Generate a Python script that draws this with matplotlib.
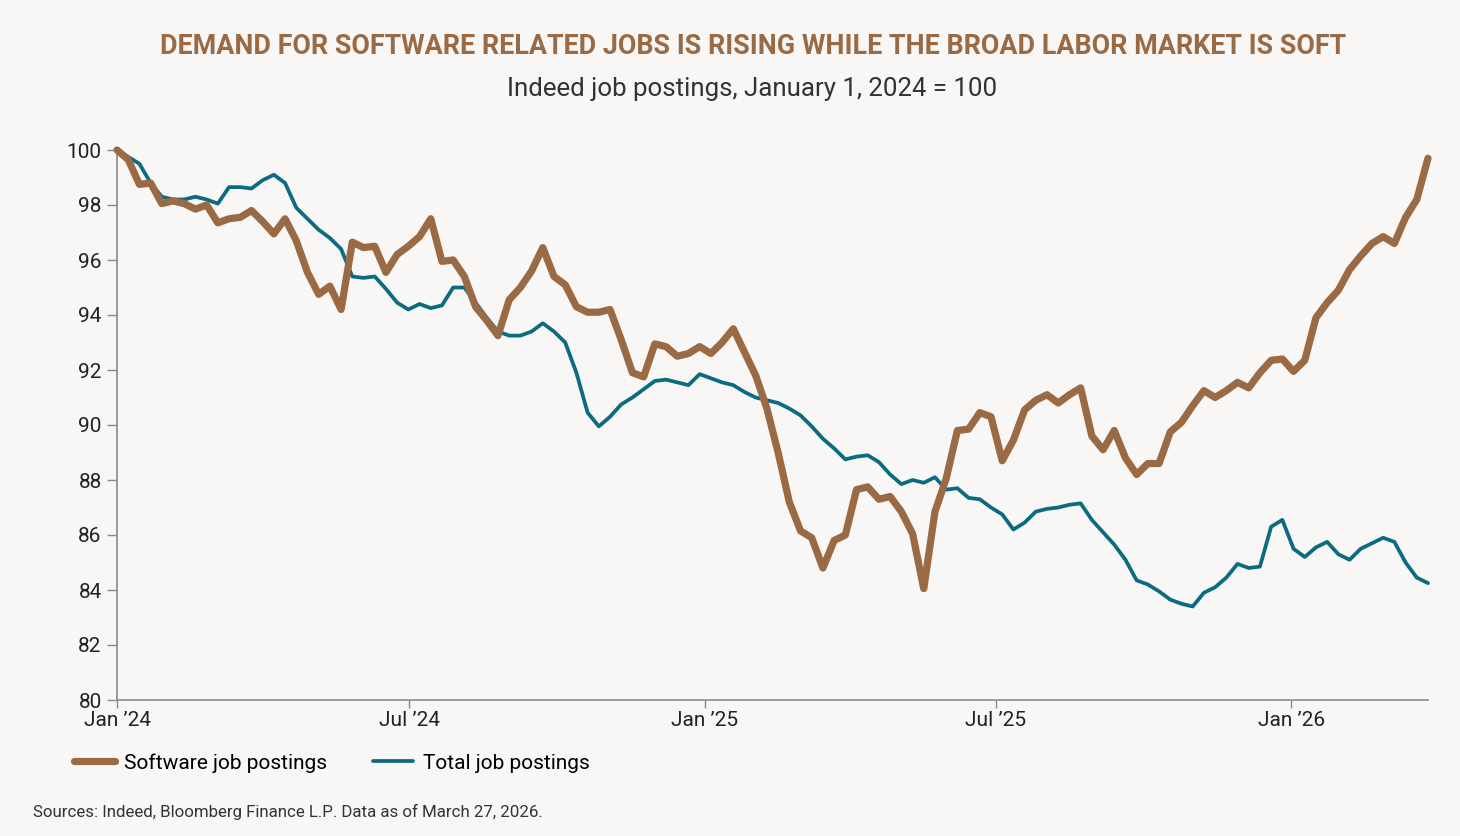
import numpy as np
import pandas as pd
import matplotlib
matplotlib.use("Agg")
import matplotlib.pyplot as plt

# ----------------------------------------------
# Datos (índice, 1 ene 2024 = 100), ~semanales
# ----------------------------------------------
start_date = "2024-01-01"
end_date = "2026-03-27"

software = [
    100.0, 99.65, 98.75, 98.8, 98.05, 98.15, 98.05, 97.85, 98.0, 97.35,
    97.5, 97.55, 97.8, 97.4, 96.95, 97.5, 96.7, 95.55, 94.75, 95.05,
    94.2, 96.65, 96.45, 96.5, 95.55, 96.2, 96.5, 96.85, 97.5, 95.95,
    96.0, 95.4, 94.3, 93.8, 93.25, 94.55, 95.0, 95.6, 96.45, 95.4,
    95.1, 94.3, 94.1, 94.1, 94.2, 93.1, 91.9, 91.75, 92.95, 92.85,
    92.5, 92.6, 92.85, 92.6, 93.0, 93.5, 92.65, 91.8, 90.6, 89.0,
    87.2, 86.15, 85.9, 84.8, 85.8, 86.0, 87.65, 87.75, 87.3, 87.4,
    86.85, 86.05, 84.05, 86.85, 88.05, 89.8, 89.85, 90.45, 90.3, 88.7,
    89.45, 90.55, 90.9, 91.1, 90.8, 91.1, 91.35, 89.6, 89.1, 89.8,
    88.8, 88.2, 88.6, 88.6, 89.75, 90.1, 90.7, 91.25, 91.0, 91.25,
    91.55, 91.35, 91.9, 92.35, 92.4, 91.95, 92.35, 93.9, 94.45, 94.9,
    95.65, 96.15, 96.6, 96.85, 96.6, 97.55, 98.2, 99.7,
]

total = [
    100.0, 99.75, 99.5, 98.8, 98.3, 98.2, 98.2, 98.3, 98.2, 98.05,
    98.65, 98.65, 98.6, 98.9, 99.1, 98.8, 97.9, 97.5, 97.1, 96.8,
    96.4, 95.4, 95.35, 95.4, 94.95, 94.45, 94.2, 94.4, 94.25, 94.35,
    95.0, 95.0, 94.45, 93.9, 93.4, 93.25, 93.25, 93.4, 93.7, 93.4,
    93.0, 91.9, 90.45, 89.95, 90.3, 90.75, 91.0, 91.3, 91.6, 91.65,
    91.55, 91.45, 91.85, 91.7, 91.55, 91.45, 91.2, 91.0, 90.9, 90.8,
    90.6, 90.35, 89.95, 89.5, 89.15, 88.75, 88.85, 88.9, 88.65, 88.2,
    87.85, 88.0, 87.9, 88.1, 87.65, 87.7, 87.35, 87.3, 87.0, 86.75,
    86.2, 86.45, 86.85, 86.95, 87.0, 87.1, 87.15, 86.55, 86.1, 85.65,
    85.1, 84.35, 84.2, 83.95, 83.65, 83.5, 83.4, 83.9, 84.1, 84.45,
    84.95, 84.8, 84.85, 86.3, 86.55, 85.5, 85.2, 85.55, 85.75, 85.3,
    85.1, 85.5, 85.7, 85.9, 85.75, 85.0, 84.45, 84.25,
]

dates = pd.date_range(start_date, end_date, periods=len(software))

tick_dates = pd.to_datetime(["2024-01-01", "2024-07-01", "2025-01-01", "2025-07-01", "2026-01-01"])
tick_labels = ["Jan \u201924", "Jul \u201924", "Jan \u201925", "Jul \u201925", "Jan \u201926"]

# ----------------------------------------------
# Estilo
# ----------------------------------------------
plt.rcParams["font.family"] = ["Roboto", "DejaVu Sans"]

brown = "#9A6A44"
teal = "#0B6B80"
bg = "#F8F7F5"
text_dark = "#333333"

fig = plt.figure(figsize=(14.6, 8.36), dpi=100, facecolor=bg)
ax = fig.add_axes([117 / 1460, 1 - 700 / 836, (1428 - 117) / 1460, (700 - 150) / 836])
ax.set_facecolor(bg)

ax.plot(dates, total, color=teal, linewidth=2.7, label="Total job postings",
        solid_capstyle="round", solid_joinstyle="round", clip_on=False, zorder=2)
ax.plot(dates, software, color=brown, linewidth=5.2, label="Software job postings",
        solid_capstyle="round", solid_joinstyle="round", clip_on=False, zorder=3)

ax.set_xlim(pd.Timestamp(start_date), pd.Timestamp(end_date))
ax.set_ylim(80, 100)
ax.set_yticks(np.arange(80, 101, 2))
ax.set_xticks(tick_dates)
ax.set_xticklabels(tick_labels)

for s in ["top", "right"]:
    ax.spines[s].set_visible(False)
for s in ["left", "bottom"]:
    ax.spines[s].set_color("#8a8a8a")
    ax.spines[s].set_linewidth(1.2)

ax.tick_params(axis="y", length=7, width=1.0, color="#8a8a8a", labelsize=15,
               labelcolor="#222222", pad=4)
ax.tick_params(axis="x", length=6, width=1.0, color="#8a8a8a", labelsize=15,
               labelcolor="#222222", pad=2)

# Títulos
fig.text(0.516, 0.944, "DEMAND FOR SOFTWARE RELATED JOBS IS RISING WHILE THE BROAD LABOR MARKET IS SOFT",
         ha="center", va="center", fontsize=19.4, fontweight="bold", color=brown)
fig.text(0.515, 0.894, "Indeed job postings, January 1, 2024 = 100",
         ha="center", va="center", fontsize=18.6, color=text_dark)

# Leyenda
handles, labels = ax.get_legend_handles_labels()
leg = fig.legend(handles[::-1], labels[::-1], loc="center left",
                 bbox_to_anchor=(74 / 1460, 1 - 763 / 836), ncol=2, frameon=False,
                 fontsize=15, handlelength=1.95, handletextpad=0.45, columnspacing=2.2,
                 borderpad=0, borderaxespad=0)
for line in leg.get_lines():
    line.set_solid_capstyle("round")

fig.text(33 / 1460, 1 - 812 / 836, "Sources: Indeed, Bloomberg Finance L.P. Data as of March 27, 2026.",
         ha="left", va="center", fontsize=12.2, color=text_dark)

fig.savefig("out.png", dpi=100, facecolor=bg)
plt.close(fig)
